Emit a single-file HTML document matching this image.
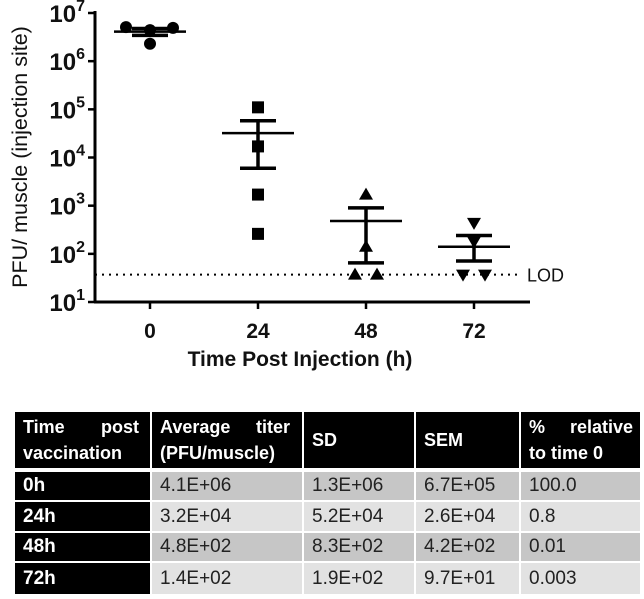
<!DOCTYPE html>
<html><head><meta charset="utf-8"><style>
body{margin:0;background:#fff;width:644px;height:599px;overflow:hidden;position:relative;font-family:"Liberation Sans",Arial,sans-serif}
.c{position:absolute;box-sizing:border-box;padding-left:8px;display:flex;align-items:center;font-size:19px;color:#222}
.h{background:#000;color:#fff;font-weight:bold;font-size:18px;line-height:26px}
.f{background:#000;color:#fff;font-weight:bold;font-size:19px}
.d{background:#c6c6c6}.l{background:#e2e2e2}
</style></head><body>
<svg id="chart" width="644" height="400" style="position:absolute;left:0;top:0" font-family="Liberation Sans, Arial, sans-serif"></svg>
<div id="tbl"></div>
<script>
const times=["0","24","48","72"];
const points=[[5.1e6,4.4e6,4.9e6,2.3e6],[1.1e5,1.7e4,1.7e3,2.6e2],[1.7e3,1.4e2,37,37],[4.4e2,1.8e2,37,37]];
const means=[4.1e6,3.2e4,4.8e2,1.4e2];
const semHigh=[4.77e6,5.8e4,9e2,2.4e2];
const semLow=[3.43e6,6e3,65,71];
const lod=37;
const yTicks=[1,2,3,4,5,6,7];
const NS="http://www.w3.org/2000/svg";
const svg=document.getElementById('chart');
const X0=95,Y7=13,DEC=48.17;
function y(v){return Y7+(7-Math.log10(v))*DEC;}
function x(i){return 150+i*108;}
function el(t,a,p){const e=document.createElementNS(NS,t);for(const k in a)e.setAttribute(k,a[k]);(p||svg).appendChild(e);return e;}
let e;
e=el('line',{x1:X0,y1:Y7-2,x2:X0,y2:y(10)+1,stroke:'#000','stroke-width':3});


e=el('line',{x1:X0-1,y1:y(10),x2:530,y2:y(10),stroke:'#000','stroke-width':3});


yTicks.forEach(p=>{const yy=y(Math.pow(10,p));
 el('line',{x1:X0-7,y1:yy,x2:X0,y2:yy,stroke:'#000','stroke-width':2.5});
 const t=el('text',{x:X0-10,y:yy+9,'text-anchor':'end','font-size':24,'font-weight':'bold',fill:'#111'});
 
 
 t.innerHTML='10<tspan dy="-11" font-size="16">'+p+'</tspan>';});
times.forEach((tm,i)=>{el('line',{x1:x(i),y1:y(10),x2:x(i),y2:y(10)+7,stroke:'#000','stroke-width':2.5});
 const t=el('text',{x:x(i),y:338,'text-anchor':'middle','font-size':21,'font-weight':'bold',fill:'#111'});
 
 
 t.textContent=tm;});
e=el('line',{x1:X0,y1:y(lod),x2:522,y2:y(lod),stroke:'#000','stroke-width':2,'stroke-dasharray':'2,5'});


e=el('text',{x:527,y:y(lod)+7,'font-size':18,fill:'#111'});e.textContent='LOD';


const offs=[[-24,0,23,0],[0,0,0,0],[0,0,-11,11],[0,0,-11,11]];
points.forEach((arr,i)=>arr.forEach((v,j)=>{
 const cx=x(i)+offs[i][j],cy=y(v);let m;
 if(i==0)m=el('circle',{cx:cx,cy:cy,r:6,fill:'#000'});
 else if(i==1)m=el('rect',{x:cx-6,y:cy-6,width:12,height:12,fill:'#000'});
 else if(i==2)m=el('polygon',{points:`${cx},${cy-7} ${cx-7},${cy+5} ${cx+7},${cy+5}`,fill:'#000'});
 else m=el('polygon',{points:`${cx},${cy+7} ${cx-7},${cy-5} ${cx+7},${cy-5}`,fill:'#000'});
 
 
}));
means.forEach((m,i)=>{const g=el('g',{});
 
 
 el('line',{x1:x(i)-36,y1:y(m),x2:x(i)+36,y2:y(m),stroke:'#000','stroke-width':2.5},g);
 el('line',{x1:x(i),y1:y(semHigh[i]),x2:x(i),y2:y(semLow[i]),stroke:'#000','stroke-width':3.5},g);
 el('line',{x1:x(i)-18,y1:y(semHigh[i]),x2:x(i)+18,y2:y(semHigh[i]),stroke:'#000','stroke-width':3.5},g);
 el('line',{x1:x(i)-18,y1:y(semLow[i]),x2:x(i)+18,y2:y(semLow[i]),stroke:'#000','stroke-width':3.5},g);});
e=el('text',{x:300,y:366,'text-anchor':'middle','font-size':21,'font-weight':'bold',fill:'#111'});e.textContent='Time Post Injection (h)';


e=el('text',{transform:'translate(27,157) rotate(-90)','text-anchor':'middle','font-size':21.5,fill:'#111'});e.textContent='PFU/ muscle (injection site)';



const cols=[[15,150],[152,302],[304,414],[416,519],[521,640]];
const rows=[[412,468],[472,500],[502,531],[533,561],[563,594]];
const header=['<span style="display:flex;justify-content:space-between;width:116px"><span>Time</span><span>post</span></span>vaccination','<span style="display:flex;justify-content:space-between;width:130px"><span>Average</span><span>titer</span></span>(PFU/muscle)','SD','SEM','<span style="display:flex;justify-content:space-between;width:104px"><span>%</span><span>relative</span></span>to time 0'];
const body=[["0h","4.1E+06","1.3E+06","6.7E+05","100.0"],["24h","3.2E+04","5.2E+04","2.6E+04","0.8"],["48h","4.8E+02","8.3E+02","4.2E+02","0.01"],["72h","1.4E+02","1.9E+02","9.7E+01","0.003"]];
const tbl=document.getElementById('tbl');
[header].concat(body).forEach((r,ri)=>r.forEach((txt,ci)=>{
 const d=document.createElement('div');
 let cls='c ';
 if(ri==0)cls+='h';else if(ci==0)cls+='f';else cls+=(ri%2?'d':'l');
 d.className=cls;
 d.style.left=cols[ci][0]+'px';d.style.width=(cols[ci][1]-cols[ci][0])+'px';
 d.style.top=rows[ri][0]+'px';d.style.height=(rows[ri][1]-rows[ri][0])+'px';
 if(ri==0&&txt.indexOf('<')>=0){d.style.display='block';d.style.paddingTop='2px';}
 d.innerHTML=txt;
 
 
 tbl.appendChild(d);}));
</script>
</body></html>
